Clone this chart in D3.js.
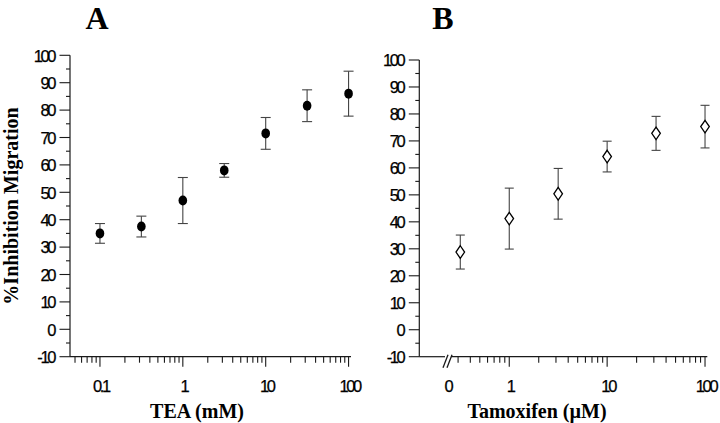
<!DOCTYPE html>
<html>
<head>
<meta charset="utf-8">
<script src="https://cdnjs.cloudflare.com/ajax/libs/d3/7.8.5/d3.min.js"></script>
<style>
  html, body { margin: 0; padding: 0; background: #fff; }
  svg { display: block; }
  .tick-label { font-family: "Liberation Sans", Arial, sans-serif; font-size: 16.5px; letter-spacing: -2.4px; fill: #000; stroke: #000; stroke-width: 0.25px; }
  .title { font-family: "Liberation Serif", "Times New Roman", serif; font-weight: bold; fill: #000; }
</style>
</head>
<body>
<svg id="chart" width="720" height="423"></svg>
<script>
// ---------------- data ----------------
const teaConc = [0.1, 0.316, 1, 3.16, 10, 31.6, 100];
const teaMean = [35.0, 37.5, 47.0, 58.0, 71.5, 81.6, 86.0];
const teaErr  = [3.6, 3.8, 8.4, 2.5, 5.8, 5.8, 8.2];

const tamConc = [0.316, 1, 3.16, 10, 31.6, 100];
const tamMean = [28.8, 41.2, 50.4, 64.2, 72.8, 75.3];
const tamErr  = [6.3, 11.3, 9.4, 5.7, 6.3, 7.9];

const yTickValues = [-10, 0, 10, 20, 30, 40, 50, 60, 70, 80, 90, 100];
const yMinorValues = [-5, 5, 15, 25, 35, 45, 55, 65, 75, 85, 95];
const teaTickValues = [0.1, 1, 10, 100];
const teaTickLabels = ["0.1", "1", "10", "100"];
const tamTickValues = [1, 10, 100];
const tamTickLabels = ["1", "10", "100"];
const tamZeroLabel = "0";

const panelA = { letter: "A", xTitle: "TEA (mM)" };
const panelB = { letter: "B", xTitle: "Tamoxifen (\u00B5M)" };
const yTitle = "%Inhibition Migration";

// ---------------- drawing ----------------
const svg = d3.select("#chart");
const axisColor = "#1a1a1a";
const barColor = "#444";

function minorLog(lo, hi) {
  const out = [];
  for (let e = -2; e <= 2; e++) {
    for (let m = 2; m <= 9; m++) {
      const v = m * Math.pow(10, e);
      if (v >= lo && v <= hi) out.push(v);
    }
  }
  return out;
}

function drawYAxis(g, y, x0) {
  g.append("line").attr("x1", x0).attr("x2", x0)
    .attr("y1", y(100)).attr("y2", y(-10))
    .attr("stroke", axisColor).attr("stroke-width", 1.2);
  g.selectAll(".ymaj").data(yTickValues).join("line")
    .attr("x1", x0 - 10.5).attr("x2", x0)
    .attr("y1", d => y(d)).attr("y2", d => y(d))
    .attr("stroke", axisColor).attr("stroke-width", 1.1);
  g.selectAll(".ymin").data(yMinorValues).join("line")
    .attr("x1", x0 - 4).attr("x2", x0)
    .attr("y1", d => y(d)).attr("y2", d => y(d))
    .attr("stroke", axisColor).attr("stroke-width", 1.1);
  g.selectAll(".ylab").data(yTickValues).join("text")
    .attr("class", "tick-label")
    .attr("x", x0 - 16).attr("y", d => y(d)).attr("dy", "0.38em")
    .attr("text-anchor", "end").text(d => d);
}

function drawXTicks(g, x, yBase, majors, labels, lo, hi) {
  g.selectAll(".xmin").data(minorLog(lo, hi)).join("line")
    .attr("x1", d => x(d)).attr("x2", d => x(d))
    .attr("y1", yBase).attr("y2", yBase + 6)
    .attr("stroke", axisColor).attr("stroke-width", 1.1);
  g.selectAll(".xmaj").data(majors).join("line")
    .attr("x1", d => x(d)).attr("x2", d => x(d))
    .attr("y1", yBase).attr("y2", yBase + 10)
    .attr("stroke", axisColor).attr("stroke-width", 1.1);
  g.selectAll(".xlab").data(majors).join("text")
    .attr("class", "tick-label")
    .attr("x", d => x(d) + 1).attr("y", yBase + 35)
    .attr("text-anchor", "middle").text((d, i) => labels[i]);
}

function drawErrorBars(g, x, y, conc, mean, err, capW) {
  const data = conc.map((c, i) => ({ c, m: mean[i], e: err[i] }));
  const eg = g.append("g").attr("stroke", barColor).attr("stroke-width", 1.1);
  eg.selectAll(".stem").data(data).join("line")
    .attr("x1", d => x(d.c)).attr("x2", d => x(d.c))
    .attr("y1", d => y(d.m + d.e)).attr("y2", d => y(d.m - d.e));
  eg.selectAll(".capT").data(data).join("line")
    .attr("x1", d => x(d.c) - capW / 2).attr("x2", d => x(d.c) + capW / 2)
    .attr("y1", d => y(d.m + d.e)).attr("y2", d => y(d.m + d.e));
  eg.selectAll(".capB").data(data).join("line")
    .attr("x1", d => x(d.c) - capW / 2).attr("x2", d => x(d.c) + capW / 2)
    .attr("y1", d => y(d.m - d.e)).attr("y2", d => y(d.m - d.e));
  return data;
}

// ---------- Panel A ----------
{
  const g = svg.append("g");
  const x0 = 70, xEnd = 351, yBase = 356.7;
  const y = d3.scaleLinear().domain([-10, 100]).range([356.7, 55.3]);
  const x = d3.scaleLog().domain([0.0435, 107]).range([x0, xEnd]);

  drawYAxis(g, y, x0);
  g.append("line").attr("x1", x0).attr("x2", xEnd).attr("y1", yBase).attr("y2", yBase)
    .attr("stroke", axisColor).attr("stroke-width", 1.2);
  drawXTicks(g, x, yBase, teaTickValues, teaTickLabels, 0.045, 100);

  const data = drawErrorBars(g, x, y, teaConc, teaMean, teaErr, 10);
  g.selectAll(".dot").data(data).join("ellipse")
    .attr("cx", d => x(d.c)).attr("cy", d => y(d.m))
    .attr("rx", 4.3).attr("ry", 5).attr("fill", "#000");

  g.append("text").attr("class", "title").attr("x", 97).attr("y", 29)
    .attr("text-anchor", "middle").attr("font-size", 32).text(panelA.letter);
  g.append("text").attr("class", "title").attr("x", 197).attr("y", 418)
    .attr("text-anchor", "middle").attr("font-size", 20).text(panelA.xTitle);
  g.append("text").attr("class", "title")
    .attr("transform", "translate(18,206) rotate(-90)")
    .attr("text-anchor", "middle").attr("font-size", 20).text(yTitle);
}

// ---------- Panel B ----------
{
  const g = svg.append("g");
  const x0 = 419.3, xStart = 452, xEnd = 707.3, yBase = 356.7;
  const breakX = 447;
  const y = d3.scaleLinear().domain([-10, 100]).range([356.7, 60]);
  const x = d3.scaleLog().domain([0.26, 105.5]).range([xStart, xEnd]);

  drawYAxis(g, y, x0);
  // axis before break
  g.append("line").attr("x1", x0).attr("x2", breakX - 2).attr("y1", yBase).attr("y2", yBase)
    .attr("stroke", axisColor).attr("stroke-width", 1.2);
  // axis after break
  g.append("line").attr("x1", breakX + 4).attr("x2", xEnd).attr("y1", yBase).attr("y2", yBase)
    .attr("stroke", axisColor).attr("stroke-width", 1.2);
  // break marks
  [0, 4].forEach(off => {
    g.append("line")
      .attr("x1", breakX - 4 + off).attr("y1", yBase + 11)
      .attr("x2", breakX + 1 + off).attr("y2", yBase - 2)
      .attr("stroke", axisColor).attr("stroke-width", 1.3);
  });
  drawXTicks(g, x, yBase, tamTickValues, tamTickLabels, 0.28, 100);
  g.append("text").attr("class", "tick-label").attr("x", breakX + 1).attr("y", yBase + 35)
    .attr("text-anchor", "middle").text(tamZeroLabel);

  const data = drawErrorBars(g, x, y, tamConc, tamMean, tamErr, 9);
  g.selectAll(".dia").data(data).join("path")
    .attr("d", d => {
      const cx = x(d.c), cy = y(d.m), w = 4.3, h = 6.3;
      return `M${cx},${cy - h}L${cx + w},${cy}L${cx},${cy + h}L${cx - w},${cy}Z`;
    })
    .attr("fill", "#fff").attr("stroke", "#000").attr("stroke-width", 1.3);

  g.append("text").attr("class", "title").attr("x", 443).attr("y", 29)
    .attr("text-anchor", "middle").attr("font-size", 32).text(panelB.letter);
  g.append("text").attr("class", "title").attr("x", 537).attr("y", 418)
    .attr("text-anchor", "middle").attr("font-size", 20).text(panelB.xTitle);
}
</script>
</body>
</html>
